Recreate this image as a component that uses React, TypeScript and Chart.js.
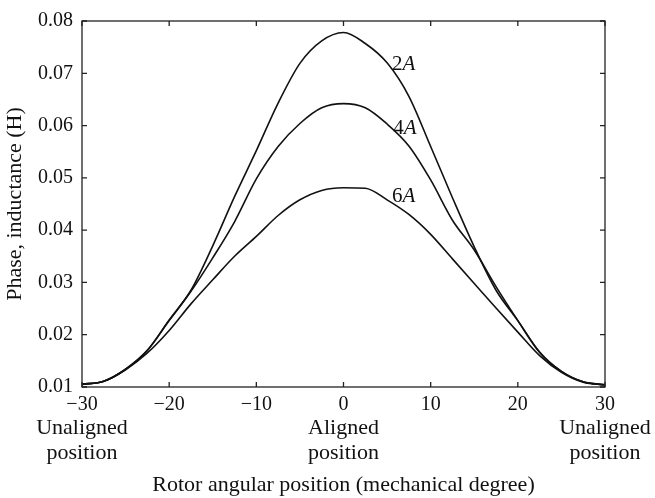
import React, { useEffect, useRef } from "react";
import { Chart, registerables } from "chart.js";

Chart.register(...registerables);

const FONT = "'Liberation Serif', 'Times New Roman', serif";

// Rotor angle (mechanical degree)
const angles = [-30, -27.5, -25, -22.5, -20, -17.5, -15, -12.5, -10, -7.5, -5, -2.5, 0, 2.5, 5, 7.5, 10, 12.5, 15, 17.5, 20, 22.5, 25, 27.5, 30];

// Phase inductance (H)
const inductance2A = [0.0105, 0.0111, 0.0134, 0.017, 0.0228, 0.0285, 0.037, 0.0464, 0.0552, 0.0643, 0.0719, 0.0762, 0.0778, 0.0757, 0.072, 0.0656, 0.056, 0.0462, 0.0368, 0.0285, 0.0227, 0.0167, 0.013, 0.011, 0.0104];
const inductance4A = [0.0105, 0.0111, 0.0134, 0.017, 0.0227, 0.0283, 0.0347, 0.0416, 0.0498, 0.056, 0.0604, 0.0634, 0.0642, 0.0634, 0.0603, 0.0561, 0.0496, 0.0419, 0.0362, 0.0292, 0.0227, 0.0166, 0.013, 0.011, 0.0104];
const inductance6A = [0.0105, 0.0111, 0.0133, 0.0165, 0.0208, 0.0259, 0.0305, 0.035, 0.0388, 0.0428, 0.0458, 0.0476, 0.0481, 0.048, 0.0458, 0.043, 0.0392, 0.0345, 0.0298, 0.0251, 0.0205, 0.016, 0.0128, 0.0109, 0.0104];

const xTicks = [-30, -20, -10, 0, 10, 20, 30];
const yTicks = [0.01, 0.02, 0.03, 0.04, 0.05, 0.06, 0.07, 0.08];
const captionedTicks = [-30, 0, 30];
const tickCaptions = [["Unaligned", "position"], ["Aligned", "position"], ["Unaligned", "position"]];

// Curve labels: current value, anchor angle, anchor inductance
const curveLabelNumbers = ["2", "4", "6"];
const curveLabelX = [5.55, 5.7, 5.55];
const curveLabelY = [0.0706, 0.0583, 0.0453];

const xTitle = "Rotor angular position (mechanical degree)";
const yTitle = "Phase, inductance (H)";

const framePlugin = {
  id: "frameAndLabels",
  afterDatasetsDraw(chart: any) {
    const { ctx, chartArea, scales } = chart;
    const { left, right, top, bottom } = chartArea;
    ctx.save();
    ctx.strokeStyle = "#222";
    ctx.lineWidth = 1.3;
    ctx.strokeRect(left, top, right - left, bottom - top);
    const tl = 5;
    ctx.beginPath();
    xTicks.forEach((v) => {
      const px = scales.x.getPixelForValue(v);
      ctx.moveTo(px, bottom);
      ctx.lineTo(px, bottom - tl);
      ctx.moveTo(px, top);
      ctx.lineTo(px, top + tl);
    });
    yTicks.forEach((v) => {
      const py = scales.y.getPixelForValue(v);
      ctx.moveTo(left, py);
      ctx.lineTo(left + tl, py);
      ctx.moveTo(right, py);
      ctx.lineTo(right - tl, py);
    });
    ctx.stroke();

    ctx.fillStyle = "#111";
    ctx.textBaseline = "alphabetic";
    ctx.textAlign = "left";
    curveLabelNumbers.forEach((n, i) => {
      const px = scales.x.getPixelForValue(curveLabelX[i]);
      const py = scales.y.getPixelForValue(curveLabelY[i]);
      ctx.font = `21px ${FONT}`;
      ctx.fillText(n, px, py);
      const w = ctx.measureText(n).width;
      ctx.font = `italic 21px ${FONT}`;
      ctx.fillText("A", px + w, py);
    });

    // captions under the -30, 0 and 30 ticks
    ctx.font = `22px ${FONT}`;
    ctx.textAlign = "center";
    ctx.textBaseline = "middle";
    captionedTicks.forEach((v, i) => {
      const px = scales.x.getPixelForValue(v);
      tickCaptions[i].forEach((line, j) => {
        ctx.fillText(line, px, bottom + 41 + j * 25);
      });
    });
    ctx.restore();
  },
};

export default function App() {
  const ref = useRef<HTMLCanvasElement | null>(null);

  useEffect(() => {
    document.body.style.margin = "0";
    const canvas = ref.current;
    if (!canvas) return;
    const line = (data: number[]) => ({
      data: angles.map((a, i) => ({ x: a, y: data[i] })),
      borderColor: "#111",
      borderWidth: 1.6,
      pointRadius: 0,
      cubicInterpolationMode: "monotone" as const,
      fill: false,
    });
    const chart = new Chart(canvas, {
      type: "line",
      data: {
        datasets: [line(inductance2A), line(inductance4A), line(inductance6A)],
      },
      options: {
        responsive: false,
        animation: false,
        layout: { padding: { top: 15, right: 50, bottom: 0, left: 0 } },
        plugins: { legend: { display: false }, tooltip: { enabled: false } },
        scales: {
          x: {
            type: "linear",
            min: -30,
            max: 30,
            afterBuildTicks: (s: any) => {
              s.ticks = xTicks.map((v) => ({ value: v }));
            },
            afterFit: (s: any) => {
              s.height = 111;
            },
            grid: { display: false, drawTicks: false },
            border: { display: false },
            ticks: {
              padding: 5,
              color: "#111",
              autoSkip: false,
              maxRotation: 0,
              font: { family: FONT, size: 20, lineHeight: 1.25 },
              callback: (v: any) => {
                const num = Number(v);
                return num < 0 ? "\u2212" + Math.abs(num) : String(num);
              },
            },
            title: {
              display: true,
              text: xTitle,
              color: "#111",
              font: { family: FONT, size: 22, lineHeight: 1.2 },
              padding: { top: 0, bottom: 0 },
            },
          },
          y: {
            type: "linear",
            min: 0.01,
            max: 0.08,
            afterBuildTicks: (s: any) => {
              s.ticks = yTicks.map((v) => ({ value: v }));
            },
            afterFit: (s: any) => {
              s.width = 82;
            },
            grid: { display: false, drawTicks: false },
            border: { display: false },
            ticks: {
              padding: 9,
              color: "#111",
              font: { family: FONT, size: 20 },
              callback: (v: any) => Number(v).toFixed(2),
            },
            title: {
              display: true,
              text: yTitle,
              color: "#111",
              font: { family: FONT, size: 22, lineHeight: 1.2 },
              padding: { top: 2, bottom: 2 },
            },
          },
        },
      },
      plugins: [framePlugin],
    });
    return () => chart.destroy();
  }, []);

  return (
    <div style={{ width: 655, height: 498 }}>
      <canvas ref={ref} width={655} height={498} style={{ display: "block" }} />
    </div>
  );
}
